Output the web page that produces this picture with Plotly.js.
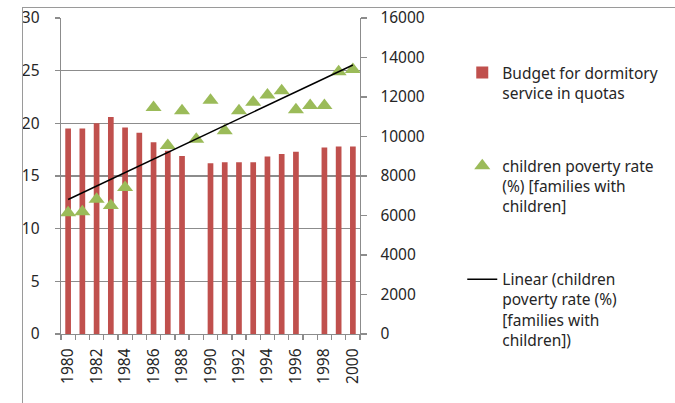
<!DOCTYPE html>
<html>
<head>
<meta charset="utf-8">
<script src="https://cdn.plot.ly/plotly-3.0.1.min.js"></script>
<style>
  html, body { margin: 0; padding: 0; background: #fff; }
  #wrap { position: relative; width: 675px; height: 403px; overflow: hidden; }
  #chart { position: absolute; left: 0; top: 0; width: 675px; height: 403px; }
  #frame { position: absolute; left: 22px; top: 7px; width: 720px; height: 500px;
           border-left: 1px solid #9a9a9a; border-top: 1px solid #9a9a9a; pointer-events: none; }
</style>
</head>
<body>
<div id="wrap">
  <div id="chart"></div>
  <div id="frame"></div>
</div>
<script>
// ---- data ----
const years = [1980, 1981, 1982, 1983, 1984, 1985, 1986, 1987, 1988, 1989, 1990,
               1991, 1992, 1993, 1994, 1995, 1996, 1997, 1998, 1999, 2000];
const budget = [10400, 10400, 10670, 10990, 10450, 10190, 9710, 9280, 9010, null, 8640,
                8690, 8690, 8690, 8990, 9120, 9230, null, 9440, 9490, 9490];
const poverty = [11.5, 11.6, 12.8, 12.2, 13.9, null, 21.5, 17.9, 21.2, 18.5, 22.2,
                 19.3, 21.2, 22.0, 22.7, 23.1, 21.3, 21.7, 21.7, 24.9, 25.1];
const labelYears = [1980, 1982, 1984, 1986, 1988, 1990, 1992, 1994, 1996, 1998, 2000];
const budgetName = "Budget for dormitory<br>service in quotas";
const povertyName = "children poverty rate<br>(%) [families with<br>children]";
const trendName = "Linear (children<br>poverty rate (%)<br>[families with<br>children])";

// ---- linear trend (least squares) over the poverty series ----
const pts = years.map((y, i) => [y, poverty[i]]).filter(p => p[1] !== null);
const n = pts.length;
const mx = pts.reduce((s, p) => s + p[0], 0) / n;
const my = pts.reduce((s, p) => s + p[1], 0) / n;
let sxy = 0, sxx = 0;
pts.forEach(p => { sxy += (p[0] - mx) * (p[1] - my); sxx += (p[0] - mx) * (p[0] - mx); });
const slope = sxy / sxx;
const trendX = [years[0], years[years.length - 1]];
const trendY = trendX.map(x => my + slope * (x - mx));

const FONT = "Noto Sans, Open Sans, sans-serif";
const TXT = "#262626";
const AX = "#8c8c8c";

const traces = [
  { type: "bar", x: years, y: budget, name: budgetName, yaxis: "y",
    marker: { color: "#C0504D" }, legendgroup: "a" },
  { type: "scatter", mode: "markers", x: years, y: poverty, name: povertyName, yaxis: "y2",
    marker: { symbol: "triangle-up", size: 14, color: "#9BBB59" }, legendgroup: "b" },
  { type: "scatter", mode: "lines", x: trendX, y: trendY, name: trendName, yaxis: "y2",
    line: { color: "#000", width: 1.5 }, legendgroup: "c" }
];

const layout = {
  width: 675, height: 403,
  margin: { l: 61, r: 313, t: 18, b: 69 },
  paper_bgcolor: "#fff", plot_bgcolor: "rgba(0,0,0,0)",
  font: { family: FONT, size: 15.5, color: TXT },
  bargap: 0.6,
  showlegend: true,
  legend: { x: 1.342, xanchor: "left", y: 0.88, yanchor: "top",
            valign: "top", tracegroupgap: 50, font: { size: 15.5, color: TXT },
            bgcolor: "rgba(0,0,0,0)" },
  xaxis: {
    range: [1979.5, 2000.5], tickmode: "array", tickvals: labelYears,
    ticktext: labelYears.map(String), tickangle: -90, ticks: "",
    showline: true, linecolor: AX, linewidth: 1.3, showgrid: false, zeroline: false,
    ticklabelstandoff: 7,
    minor: { tickmode: "linear", tick0: 1979.5, dtick: 1, ticks: "outside",
             ticklen: 5, tickcolor: AX, tickwidth: 1.3, showgrid: false }
  },
  yaxis: {
    side: "right", range: [0, 16000], dtick: 2000, tick0: 0, tickformat: "d",
    ticks: "outside", ticklen: 6, tickcolor: AX, tickwidth: 1.3,
    showline: true, linecolor: AX, linewidth: 1.3, showgrid: false, zeroline: false,
    ticklabelstandoff: 10
  },
  yaxis2: {
    side: "left", overlaying: "y", range: [0, 30], dtick: 5, tick0: 0,
    ticks: "outside", ticklen: 5, tickcolor: AX, tickwidth: 1.3,
    showline: true, linecolor: AX, linewidth: 1.3,
    showgrid: true, gridcolor: AX, gridwidth: 1.3, zeroline: false,
    ticklabelstandoff: 12
  }
};

Plotly.newPlot("chart", traces, layout, { staticPlot: true, displayModeBar: false });
</script>
</body>
</html>
